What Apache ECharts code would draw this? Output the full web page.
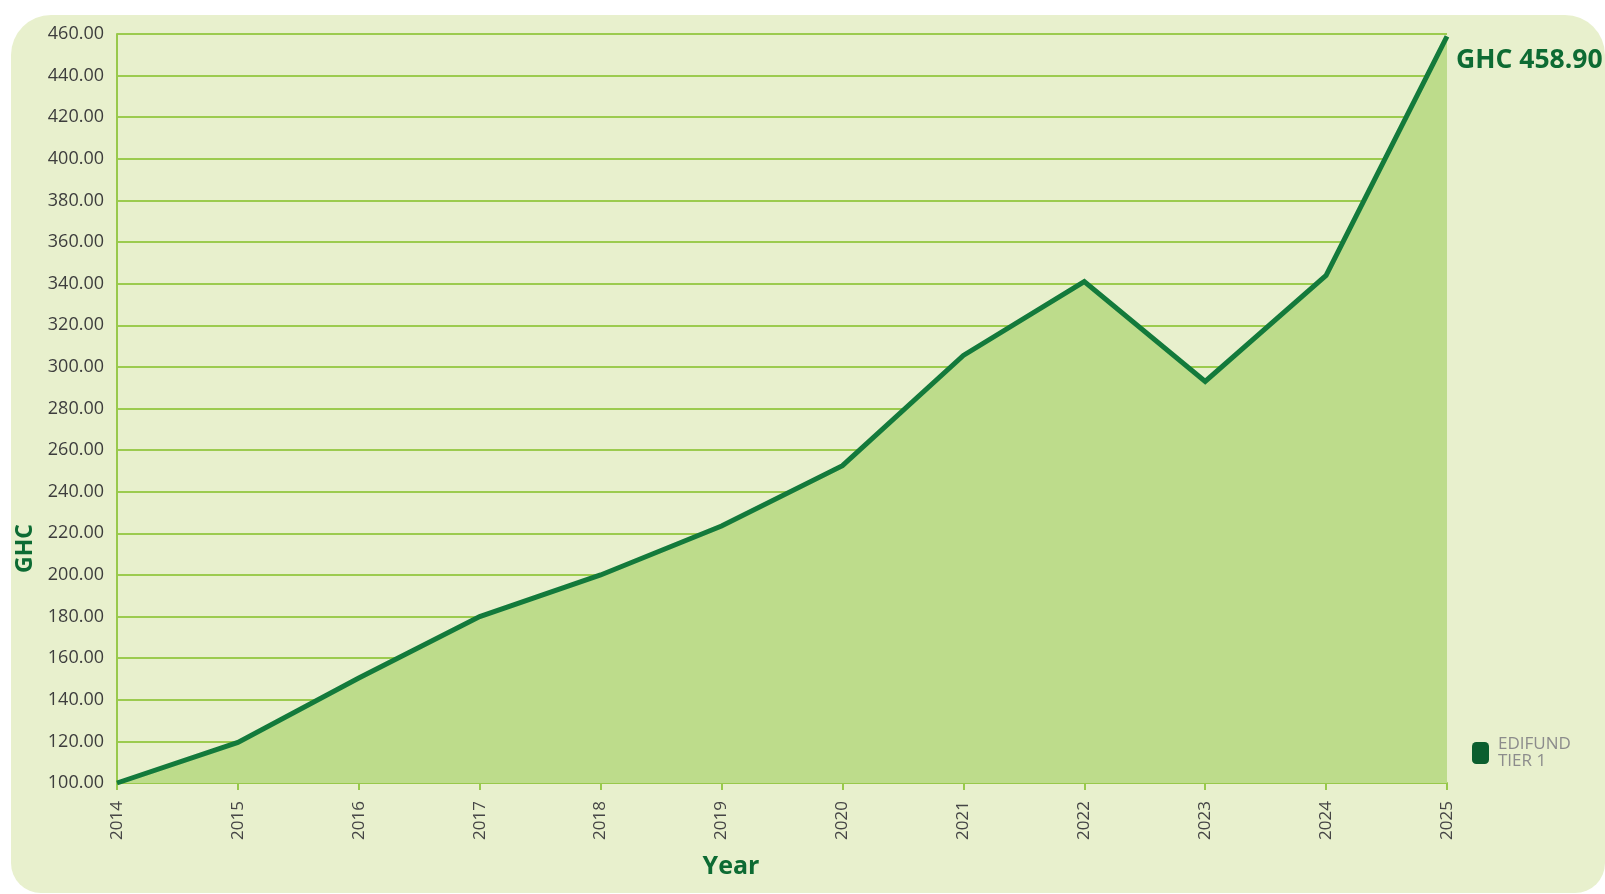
<!DOCTYPE html>
<html>
<head>
<meta charset="utf-8">
<script src="https://cdn.jsdelivr.net/npm/echarts@6/dist/echarts.min.js"></script>
<style>
html,body{margin:0;padding:0;background:#ffffff;}
#chart{width:1605px;height:894px;}
</style>
</head>
<body>
<div id="chart"></div>
<script>
var years = ['2014','2015','2016','2017','2018','2019','2020','2021','2022','2023','2024','2025'];
var tier1Values = [100, 119.5, 150.5, 180, 200, 223.5, 252.5, 305.5, 341, 293, 344, 458.9];
var seriesName = 'EDIFUND\nTIER 1';
var endLabelText = 'GHC 458.90';

var FONT = '"Open Sans", "Noto Sans", sans-serif';

var chart = echarts.init(document.getElementById('chart'));
chart.setOption({
  animation: false,
  backgroundColor: '#ffffff',
  graphic: [{
    type: 'rect',
    z: -10,
    silent: true,
    shape: { x: 11, y: 15, width: 1594, height: 878, r: [40, 40, 30, 30] },
    style: { fill: '#e8f0cd' }
  }],
  grid: { left: 117, right: 158, top: 34, bottom: 111, containLabel: false },
  legend: {
    show: true,
    data: [{ name: seriesName, icon: 'roundRect' }],
    left: 1467,
    top: 731,
    orient: 'vertical',
    itemWidth: 17,
    itemHeight: 22,
    itemGap: 10,
    itemStyle: { color: '#0b5e2e' },
    textStyle: { color: '#8c8c8c', fontSize: 17, lineHeight: 17, fontFamily: FONT, padding: [0, 0, 0, 4] }
  },
  xAxis: {
    type: 'category',
    data: years,
    boundaryGap: false,
    name: 'Year',
    nameLocation: 'middle',
    nameGap: 71,
    nameTextStyle: { color: '#0d6b33', fontSize: 25, fontWeight: 'bold', fontFamily: FONT, padding: [0, 102, 0, 0] },
    axisLine: { show: true, lineStyle: { color: '#98c94b', width: 2 } },
    axisTick: { show: true, alignWithLabel: true, length: 7, lineStyle: { color: '#98c94b', width: 2 } },
    axisLabel: { rotate: 90, margin: 18, color: '#454545', fontSize: 17, fontFamily: FONT },
    splitLine: { show: false }
  },
  yAxis: {
    type: 'value',
    min: 100,
    max: 460,
    interval: 20,
    name: 'GHC',
    nameLocation: 'middle',
    nameRotate: 90,
    nameGap: 76,
    nameTextStyle: { color: '#0d6b33', fontSize: 23, fontWeight: 'bold', fontFamily: FONT, padding: [0, 280, 0, 0] },
    axisLine: { show: true, lineStyle: { color: '#98c94b', width: 2 } },
    axisTick: { show: false },
    axisLabel: {
      margin: 13,
      color: '#3d3d3d',
      fontSize: 18,
      fontFamily: FONT,
      formatter: function (v) { return v.toFixed(2); }
    },
    splitLine: { show: true, lineStyle: { color: '#9ccb4f', width: 2 } }
  },
  series: [{
    name: seriesName,
    type: 'line',
    data: tier1Values,
    showSymbol: false,
    symbol: 'none',
    lineStyle: { color: '#137a3b', width: 5, join: 'miter' },
    itemStyle: { color: '#0b5e2e' },
    areaStyle: { color: '#bddc8b', opacity: 1 },
    endLabel: {
      show: true,
      distance: 9,
      offset: [0, 24],
      formatter: endLabelText,
      color: '#0d6b33',
      fontSize: 26.5,
      fontWeight: 'bold',
      fontFamily: FONT
    },
    z: 3
  }]
});
</script>
</body>
</html>
